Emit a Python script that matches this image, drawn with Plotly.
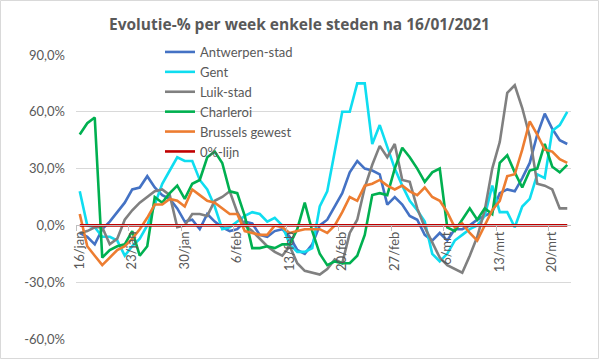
import pandas as pd
import plotly.graph_objects as go

# Categories: daily dates from 16/01/2021 to 22/03/2021
DATES = pd.date_range("2021-01-16", "2021-03-22", freq="D")

TICK_DATES = ["2021-01-16", "2021-01-23", "2021-01-30", "2021-02-06", "2021-02-13",
              "2021-02-20", "2021-02-27", "2021-03-06", "2021-03-13", "2021-03-20"]
TICK_LABELS = ["16/jan", "23/jan", "30/jan", "6/feb", "13/feb",
               "20/feb", "27/feb", "6/mrt", "13/mrt", "20/mrt"]

Y_TICKS = [-60, -30, 0, 30, 60, 90]
Y_LABELS = ["-60,0%", "-30,0%", "0,0%", "30,0%", "60,0%", "90,0%"]

antwerpen = [-4, -6, -10, -2, 2, 7, 12, 19, 20, 26,
             20, 16, 14, 9, 2, 3, -2, 6, 2, -1,
             -3, -2, 2, 1, -5, -6, -3, -2, -6, -13,
             -15, -10, 0, 3, 10, 17, 28, 34, 30, 29,
             27, 11, 15, 11, 5, 3, -5, -8, -4, -8,
             -2, -2, 0, 3, 5, 7, 17, 19, 18, 25,
             33, 48, 59, 51, 45, 43]

gent = [18, 0, -1, -6, -6, -8, -16, -11, -7, 0,
        11, 22, 29, 36, 34, 34, 24, 19, 10, -2,
        -1, 2, 5, 7, 6, 2, 4, 0, -10, -14,
        -14, -12, 10, 18, 38, 60, 60, 75, 75, 43,
        53, 41, 30, 21, 13, 8, 2, -15, -19, -15,
        -8, -5, -2, 0, 5, 21, 7, 7, -1, 10,
        14, 27, 25, 50, 53, 60]

luik = [-4, -3, -1, -1, -10, -7, 3, 8, 12, 15,
        18, 19, 16, -1, 0, 6, 6, 5, 13, 15,
        18, 7, 0, -3, -7, -11, -14, -16, -11, -20,
        -24, -25, -26, -23, -18, -20, -4, 3, 20, 32,
        42, 36, 43, 24, 23, 9, -1, -9, -17, -21,
        -23, -25, -16, -6, 8, 30, 44, 70, 74, 62,
        47, 22, 21, 19, 9, 9]

charleroi = [48, 54, 57, -17, -13, -11, -10, -3, -16, -11,
             15, 12, 17, 21, 14, 22, 24, 36, 39, 33,
             18, 17, 5, -12, -12, -11, -12, -10, -10, -2,
             12, -3, -15, -21, -19, -20, -20, -16, -5, 16,
             17, 16, 30, 41, 36, 30, 23, 28, 30, -1,
             -3, 3, 9, 3, 9, 6, 33, 37, 28, 20,
             29, 30, 43, 31, 28, 32]

brussels = [6, -11, -16, -21, -17, -13, -11, -7, -2, 4,
            11, 11, 14, 13, 10, 19, 16, 13, 12, 9,
            6, 6, -3, -4, -5, -5, 0, -1, -4, -3,
            -2, -2, -2, -4, 0, 7, 15, 13, 21, 22,
            24, 21, 19, 21, 18, 16, 20, 15, 13, 7,
            -1, 1, -4, -8, 0, 8, 13, 26, 27, 40,
            55, 48, 40, 39, 35, 33]

zero_line = [0] * len(DATES)

SERIES = [
    ("Antwerpen-stad", antwerpen, "#4472C4"),
    ("Gent", gent, "#0FDDF0"),
    ("Luik-stad", luik, "#808080"),
    ("Charleroi", charleroi, "#00B050"),
    ("Brussels gewest", brussels, "#ED7D31"),
    ("0%-lijn", zero_line, "#C00000"),
]

FONT = "Lato, 'Open Sans', sans-serif"
TFONT = "'Open Sans', sans-serif"
TXT = "#595959"

fig = go.Figure()
for name, vals, col in SERIES:
    fig.add_trace(go.Scatter(x=DATES, y=vals, name=name, mode="lines",
                             line=dict(color=col, width=2.6)))

minor_ticks = [pd.Timestamp(d) - pd.Timedelta(hours=12) for d in TICK_DATES]

W, H = 599, 359
L, R, T, B = 76, 28, 30, 20
PT, PB = 55, 339          # plot area top / bottom in pixels
ph_paper = H - T - B      # paper height
pw = W - L - R
dom_top = (PB - PT) / ph_paper

def py(pix):
    return (PB - pix) / ph_paper

fig.update_layout(
    width=W, height=H,
    margin=dict(l=L, r=R, t=T, b=B, autoexpand=False),
    paper_bgcolor="white", plot_bgcolor="white",
    title=dict(text="<b>Evolutie-% per week enkele steden na 16/01/2021</b>",
               x=0.5, xref="container", xanchor="center", y=1 - 25 / H, yanchor="middle",
               font=dict(family=TFONT, size=15.5, color=TXT)),
    font=dict(family=FONT, size=13, color=TXT),
    showlegend=True,
    legend=dict(x=(160 - L) / pw, y=py(37), xanchor="left", yanchor="top",
                bgcolor="rgba(0,0,0,0)", font=dict(family=FONT, size=13, color=TXT),
                tracegroupgap=0, itemwidth=30),
    xaxis=dict(
        type="date",
        range=[pd.Timestamp("2021-01-15 12:00"), pd.Timestamp("2021-03-22 12:00")],
        anchor="free", position=dom_top * 60 / 150,
        tickmode="array", tickvals=TICK_DATES, ticktext=TICK_LABELS,
        tickangle=-90, ticks="", showgrid=False, zeroline=False,
        showline=True, linecolor="#BFBFBF", linewidth=1,
        tickfont=dict(family=FONT, size=13, color=TXT),
        minor=dict(tickmode="array", tickvals=minor_ticks, ticks="outside",
                   ticklen=5, tickcolor="#BFBFBF", showgrid=False),
    ),
    yaxis=dict(
        domain=[0, dom_top],
        range=[-60, 90], tickmode="array", tickvals=Y_TICKS, ticktext=Y_LABELS,
        showgrid=True, gridcolor="#D9D9D9", gridwidth=1, zeroline=False,
        showline=False, ticks="", ticklabelstandoff=10,
        tickfont=dict(family=FONT, size=13, color=TXT),
    ),
    shapes=[dict(type="rect", xref="paper", yref="paper",
                 x0=(0.5 - L) / pw, x1=(W - 0.5 - L) / pw,
                 y0=py(H - 0.5), y1=py(0.5),
                 line=dict(color="#D9D9D9", width=1), fillcolor="rgba(0,0,0,0)",
                 layer="below")],
)

fig.write_html("out.html", config={"displayModeBar": False},
               post_script="document.body.style.margin='0px';")
